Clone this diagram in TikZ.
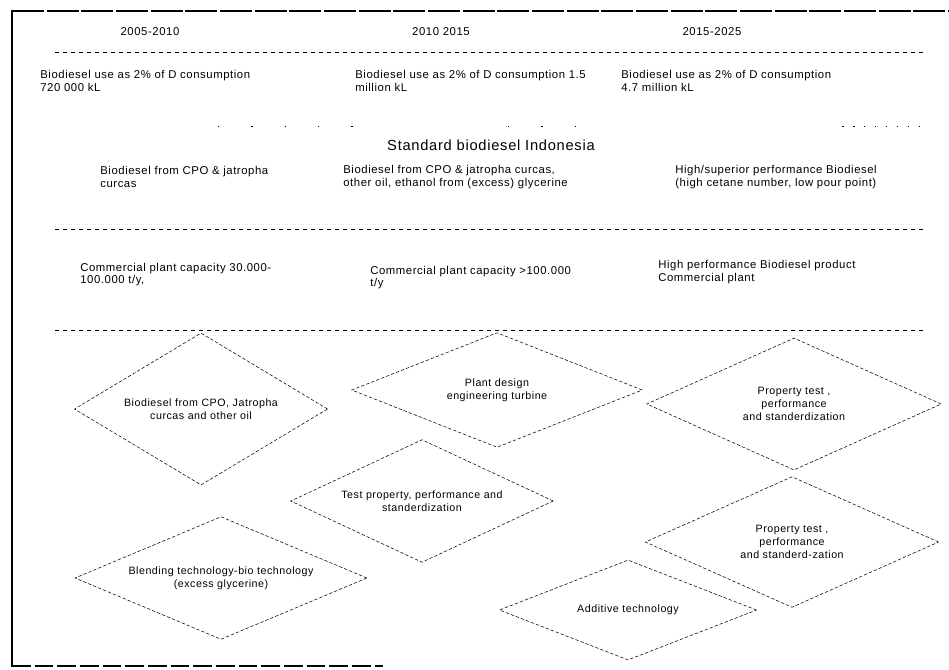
\documentclass[tikz,border=0pt]{standalone}
\usepackage{fontspec}
\setmainfont{Liberation Sans}
\newfontfamily\scanfont[LetterSpace=5]{Liberation Sans}
\usetikzlibrary{shapes.geometric}
\usetikzlibrary{backgrounds}
\tikzset{every picture/.style={line width=0.5pt},
  txt/.style={font=\scanfont\fontsize{8.5}{9.5}\selectfont,align=left,anchor=west,inner sep=0pt},
  yr/.style={font=\scanfont\fontsize{8.5}{9.5}\selectfont,inner sep=0pt},
  sepline/.style={dash pattern=on 3pt off 3pt,line width=0.6pt},
  task/.style={diamond,draw,dash pattern=on 2.5pt off 1.5pt,line width=0.4pt,inner sep=0pt,
    align=center,font=\scanfont\fontsize{8}{9.5}\selectfont}}

\begin{document}
\begin{tikzpicture}[x=0.75pt,y=-0.75pt]
\useasboundingbox (0,0) rectangle (949,669);
% frame
\draw[line width=2.2pt] (12,10) -- (12,667);
\draw[line width=1.5pt,dash pattern=on 24pt off 2pt] (12,11) -- (949,11);
\draw[line width=1.2pt,dash pattern=on 14pt off 3pt] (12,666) -- (383,666);
% periods
\node[yr] (yrA) at (150,32) {2005-2010};
\node[yr] (yrB) at (441,32) {2010 2015};
\node[yr] (yrC) at (712,32) {2015-2025};
\draw[sepline] (55,52) -- (925,52);
% use
\node[txt] (useA) at (40,81) {Biodiesel use as 2\% of D consumption\\720 000 kL};
\node[txt] (useB) at (355,81) {Biodiesel use as 2\% of D consumption 1.5\\million kL};
\node[txt] (useC) at (621,81) {Biodiesel use as 2\% of D consumption\\4.7 million kL};
\draw[dash pattern=on 1pt off 24pt] (218,126) -- (380,126);
\draw[dash pattern=on 1pt off 24pt] (508,126) -- (575,126);
\draw[dash pattern=on 1.2pt off 7pt] (842,126) -- (925,126);
% standard
\node[yr,font=\scanfont\fontsize{11}{12}\selectfont] (std) at (491,145) {Standard biodiesel Indonesia};
\node[txt] (feedA) at (100,177) {Biodiesel from CPO \& jatropha\\curcas};
\node[txt] (feedB) at (343,177) {Biodiesel from CPO \& jatropha curcas,\\other oil, ethanol from (excess) glycerine};
\node[txt] (feedC) at (675,177) {High/superior performance Biodiesel\\(high cetane number, low pour point)};
\draw[sepline] (55,229) -- (925,229);
% plant
\node[txt] (plantA) at (80,274.5) {Commercial plant capacity 30.000-\\100.000 t/y,};
\node[txt] (plantB) at (370,277.5) {Commercial plant capacity >100.000\\t/y};
\node[txt] (plantC) at (658,272) {High performance Biodiesel product\\Commercial plant};
\draw[sepline] (55,330) -- (925,330);
% technologies
\node[task,aspect=1.66,minimum width=190pt,minimum height=114pt] (cpo) at (201,409) {Biodiesel from CPO, Jatropha\\curcas and other oil};
\node[task,aspect=2.53,minimum width=218pt,minimum height=86pt] (design) at (497,390) {Plant design\\engineering turbine};
\node[task,aspect=2.23,minimum width=221pt,minimum height=99pt] (propA) at (794,404) {Property test ,\\performance\\and standerdization};
\node[task,aspect=2.14,minimum width=197pt,minimum height=92pt] (test) at (422,501) {Test property, performance and\\standerdization};
\node[task,aspect=2.25,minimum width=220pt,minimum height=98pt] (propB) at (792,542) {Property test ,\\performance\\and standerd-zation};
\node[task,aspect=2.37,minimum width=219pt,minimum height=92pt] (blend) at (221,578) {Blending technology-bio technology\\(excess glycerine)};
\node[task,aspect=2.57,minimum width=193pt,minimum height=75pt] (additive) at (628,610) {Additive technology};
\end{tikzpicture}
\end{document}
